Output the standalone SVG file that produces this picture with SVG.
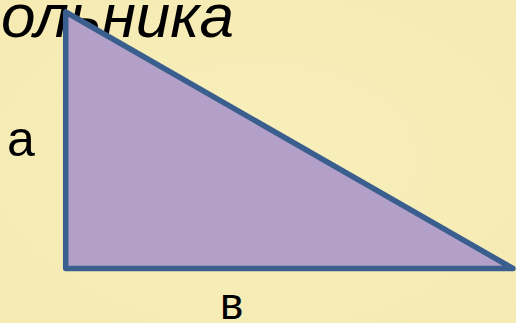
<svg xmlns="http://www.w3.org/2000/svg" width="516" height="323" viewBox="0 0 516 323">
<defs>
<style>
.lbl{font-family:"Liberation Sans",Arial,sans-serif;fill:#000}
</style>
<radialGradient id="bg" cx="50%" cy="50%" r="70%">
<stop offset="0" stop-color="#F8EFBC"/>
<stop offset="1" stop-color="#F5EAB2"/>
</radialGradient>
</defs>
<rect width="516" height="323" fill="url(#bg)"/>
<g id="title">
<text class="lbl" x="234" y="37" font-size="62" font-style="italic" text-anchor="end">ольника</text>
</g>
<g id="triangle">
<polygon points="65.7,12 65.7,268.5 513,268.5" fill="#B3A0C8" stroke="#3A5F8E" stroke-width="5.5" stroke-linejoin="round"/>
</g>
<g id="label-a">
<text class="lbl" x="7" y="156" font-size="50">а</text>
</g>
<g id="label-b">
<text class="lbl" x="220" y="319" font-size="44">в</text>
</g>
<g id="connectors"/>
</svg>
